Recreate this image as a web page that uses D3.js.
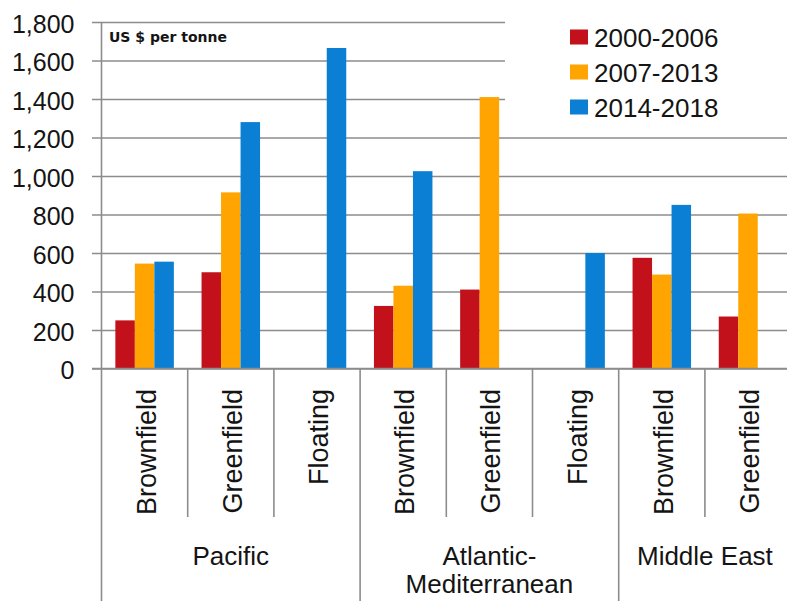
<!DOCTYPE html>
<html>
<head>
<meta charset="utf-8">
<script src="https://cdn.jsdelivr.net/npm/d3@7"></script>
<style>
  html, body { margin: 0; padding: 0; background: #fff; }
  svg { display: block; }
  text { font-family: "Liberation Sans", Arial, sans-serif; fill: #141414; }
</style>
</head>
<body>
<svg id="chart" width="787" height="601"></svg>
<script>
// Unit cost of LNG liquefaction capacity by region and project type
const regions = ["Pacific", "Atlantic-\nMediterranean", "Middle East"];
const regionSpans = [3, 3, 2];
const types = ["Brownfield", "Greenfield", "Floating", "Brownfield", "Greenfield", "Floating", "Brownfield", "Greenfield"];
const periods = ["2000-2006", "2007-2013", "2014-2018"];
const values2000_2006 = [250, 500, null, 325, 410, null, 575, 270];
const values2007_2013 = [545, 915, null, 430, 1410, null, 488, 805];
const values2014_2018 = [555, 1280, 1665, 1025, null, 600, 850, null];
const yTicks = [0, 200, 400, 600, 800, 1000, 1200, 1400, 1600, 1800];
const colors = ["#c2111b", "#ffa400", "#0a7fd4"];

const seriesValues = [values2000_2006, values2007_2013, values2014_2018];
const svg = d3.select("#chart");

const left = 101.5, bandW = 86.2;
const right = left + bandW * types.length;
const y = d3.scaleLinear().domain([0, 1800]).range([368.5, 22]);
const x = d3.scaleBand().domain(d3.range(types.length)).range([left, right]).padding(0);
const xs = d3.scaleBand().domain(periods).range([13.85, bandW - 13.85]).padding(0);
const lineColor = "#8c8c8c";

// horizontal gridlines with outward ticks
const yAxis = d3.axisLeft(y).tickValues(yTicks).tickSize(-(787 - left)).tickFormat(d3.format(","));
const gAxis = svg.append("g").attr("transform", `translate(${left},0)`).call(yAxis);
gAxis.select(".domain").remove();
gAxis.selectAll(".tick line")
  .attr("x1", -9.5)
  .attr("stroke", lineColor).attr("stroke-width", 1.6);
gAxis.selectAll(".tick text")
  .attr("x", -27).attr("dy", "0.4em")
  .style("font-size", "25px").style("font-family", "Liberation Sans, Arial, sans-serif")
  .attr("fill", "#141414");

// white legend panel sits over the upper gridlines
svg.append("rect").attr("x", 505).attr("y", 0).attr("width", 282).attr("height", 124).attr("fill", "#fff");

// bars
const rows = types.map((t, i) => ({ i, vals: periods.map((p, k) => ({ p, k, v: seriesValues[k][i] })) }));
const groups = svg.append("g").selectAll("g").data(rows).join("g")
  .attr("transform", d => `translate(${x(d.i)},0)`);
groups.selectAll("rect").data(d => d.vals.filter(v => v.v != null)).join("rect")
  .attr("x", d => xs(d.p))
  .attr("width", xs.bandwidth())
  .attr("y", d => y(d.v))
  .attr("height", d => y(0) - y(d.v))
  .attr("fill", d => colors[d.k]);

// value axis line and baseline
svg.append("line").attr("x1", left).attr("x2", left).attr("y1", y(1800)).attr("y2", 601)
  .attr("stroke", lineColor).attr("stroke-width", 1.6);
svg.append("line").attr("x1", left - 9.5).attr("x2", 787).attr("y1", y(0)).attr("y2", y(0))
  .attr("stroke", lineColor).attr("stroke-width", 1.6);

// category separators: short between types, full height between regions
const regionBounds = d3.cumsum(regionSpans);
d3.range(1, types.length + 1).forEach(i => {
  const full = regionBounds.includes(i);
  svg.append("line")
    .attr("x1", x(0) + i * bandW).attr("x2", x(0) + i * bandW)
    .attr("y1", y(0)).attr("y2", full ? 601 : 517)
    .attr("stroke", lineColor).attr("stroke-width", 1.6);
});

// rotated type labels
svg.append("g").selectAll("text").data(types).join("text")
  .attr("transform", (d, i) => `translate(${x(i) + bandW / 2 + 11},389) rotate(-90)`)
  .attr("text-anchor", "end")
  .style("font-size", "27px")
  .text(d => d);

// region labels
let start = 0;
regions.forEach((r, j) => {
  const cx = left + (start + regionSpans[j] / 2) * bandW;
  start += regionSpans[j];
  const t = svg.append("text").attr("text-anchor", "middle").style("font-size", "26px");
  r.split("\n").forEach((line, k) => {
    t.append("tspan").attr("x", cx).attr("y", 565 + k * 28).text(line);
  });
});

// unit note
svg.append("text").attr("x", 109).attr("y", 41.5)
  .style("font-family", "DejaVu Sans, sans-serif").style("font-weight", "bold").style("font-size", "14px")
  .text("US $ per tonne");

// legend
const legend = svg.append("g").selectAll("g").data(periods).join("g")
  .attr("transform", (d, i) => `translate(570,${37 + i * 35})`);
legend.append("rect").attr("x", 0).attr("y", -7.5).attr("width", 18).attr("height", 15)
  .attr("fill", (d, i) => colors[i]);
legend.append("text").attr("x", 24).attr("y", 9.5).style("font-size", "26px").text(d => d);
</script>
</body>
</html>
